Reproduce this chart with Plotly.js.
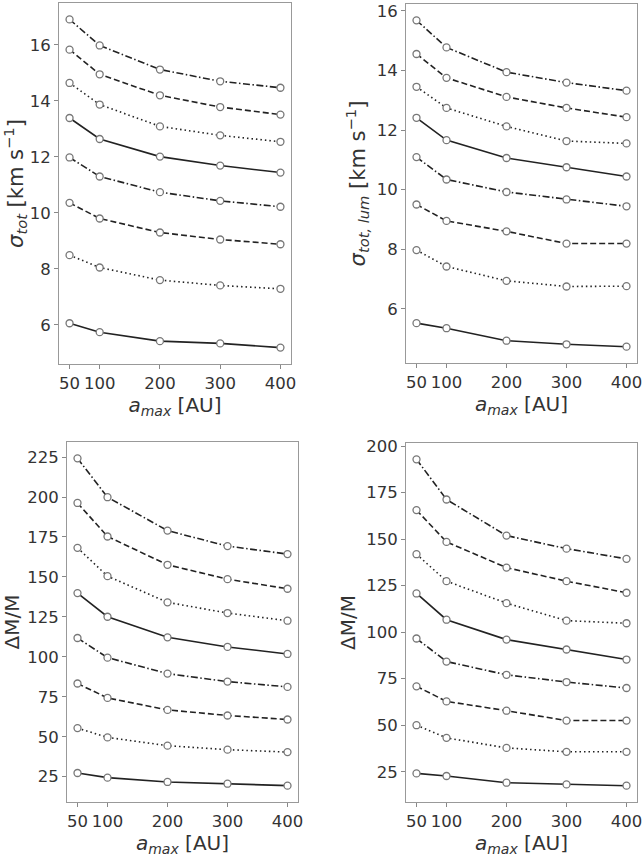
<!DOCTYPE html>
<html>
<head>
<meta charset="utf-8">
<script src="https://cdn.plot.ly/plotly-3.0.1.min.js"></script>
<style>html,body{margin:0;padding:0;background:#fff;}#chart{width:643px;height:857px;}</style>
</head>
<body>
<div id="chart"></div>
<script>
// a_max values [AU]
const aMax = [50, 100, 200, 300, 400];
const xTicks = [50, 100, 200, 300, 400];

// Panel 1: sigma_tot [km/s], series from bottom (1) to top (8)
const sigTot1 = [6.06, 5.74, 5.42, 5.34, 5.19];
const sigTot2 = [8.49, 8.05, 7.60, 7.41, 7.29];
const sigTot3 = [10.36, 9.80, 9.30, 9.05, 8.88];
const sigTot4 = [11.98, 11.30, 10.74, 10.43, 10.22];
const sigTot5 = [13.39, 12.64, 12.01, 11.69, 11.44];
const sigTot6 = [14.64, 13.87, 13.09, 12.77, 12.54];
const sigTot7 = [15.83, 14.95, 14.20, 13.78, 13.51];
const sigTot8 = [16.91, 15.98, 15.12, 14.70, 14.47];

// Panel 2: sigma_tot,lum [km/s]
const sigLum1 = [5.52, 5.35, 4.93, 4.81, 4.73];
const sigLum2 = [7.97, 7.42, 6.94, 6.75, 6.76];
const sigLum3 = [9.50, 8.95, 8.60, 8.19, 8.19];
const sigLum4 = [11.09, 10.34, 9.92, 9.67, 9.44];
const sigLum5 = [12.41, 11.66, 11.06, 10.75, 10.44];
const sigLum6 = [13.45, 12.74, 12.12, 11.63, 11.55];
const sigLum7 = [14.55, 13.75, 13.11, 12.74, 12.43];
const sigLum8 = [15.68, 14.77, 13.94, 13.59, 13.32];

// Panel 3: ΔM/M
const dmA1 = [27.3, 24.4, 21.7, 20.6, 19.4];
const dmA2 = [55.4, 49.6, 44.4, 41.9, 40.4];
const dmA3 = [83.3, 74.3, 66.8, 63.3, 60.8];
const dmA4 = [111.8, 99.5, 89.5, 84.5, 81.2];
const dmA5 = [139.9, 125.1, 112.2, 106.2, 101.8];
const dmA6 = [168.2, 150.5, 134.1, 127.4, 122.6];
const dmA7 = [196.3, 175.3, 157.6, 148.6, 142.6];
const dmA8 = [224.2, 199.9, 179.0, 169.3, 164.3];

// Panel 4: ΔM/M (luminosity weighted)
const dmB1 = [24.1, 22.7, 19.1, 18.2, 17.5];
const dmB2 = [50.0, 43.2, 37.8, 35.7, 35.7];
const dmB3 = [70.9, 62.8, 57.8, 52.5, 52.5];
const dmB4 = [96.6, 84.2, 77.1, 73.2, 70.0];
const dmB5 = [120.8, 106.7, 96.0, 90.7, 85.3];
const dmB6 = [141.9, 127.4, 115.6, 106.2, 104.8];
const dmB7 = [165.6, 148.5, 134.7, 127.4, 121.2];
const dmB8 = [192.9, 171.3, 151.9, 144.9, 139.4];

const panels = [
  {series: [sigTot1, sigTot2, sigTot3, sigTot4, sigTot5, sigTot6, sigTot7, sigTot8], yTicks: [6, 8, 10, 12, 14, 16], yTitle: '<i>σ<sub>tot</sub></i> [km s<sup>−1</sup>]', ySize: 21},
  {series: [sigLum1, sigLum2, sigLum3, sigLum4, sigLum5, sigLum6, sigLum7, sigLum8], yTicks: [6, 8, 10, 12, 14, 16], yTitle: '<i>σ<sub>tot, lum</sub></i> [km s<sup>−1</sup>]', ySize: 21},
  {series: [dmA1, dmA2, dmA3, dmA4, dmA5, dmA6, dmA7, dmA8], yTicks: [25, 50, 75, 100, 125, 150, 175, 200, 225], yTitle: 'ΔM/M', ySize: 20},
  {series: [dmB1, dmB2, dmB3, dmB4, dmB5, dmB6, dmB7, dmB8], yTicks: [25, 50, 75, 100, 125, 150, 175, 200], yTitle: 'ΔM/M', ySize: 20}
];

const dashes = ['solid', '1.5px,3px', '6px,3px', '7px,2.5px,1.5px,2.5px'];

const W = 643, H = 857;
const boxes = [
  {x0: 59, x1: 291, y0: 3, y1: 364},
  {x0: 406, x1: 637, y0: 4, y1: 363},
  {x0: 67, x1: 298, y0: 442, y1: 802},
  {x0: 406, x1: 637, y0: 443, y1: 802}
];

const traces = [];
const layout = {
  width: W, height: H,
  margin: {l: 0, r: 0, t: 0, b: 0},
  paper_bgcolor: '#fff', plot_bgcolor: '#fff',
  showlegend: false,
  font: {family: 'DejaVu Sans, sans-serif', color: '#333'}
};

panels.forEach((p, i) => {
  const n = i + 1;
  const xa = n === 1 ? 'x' : 'x' + n;
  const ya = n === 1 ? 'y' : 'y' + n;
  const all = p.series.flat();
  const mn = Math.min(...all), mx = Math.max(...all);
  const pad = (mx - mn) * 0.05;
  p.series.forEach((s, k) => {
    traces.push({
      x: aMax, y: s, xaxis: xa, yaxis: ya,
      mode: 'lines+markers', type: 'scatter',
      line: {color: '#222', width: 1.6, dash: dashes[k % 4]},
      marker: {symbol: 'circle', size: 7, color: '#fff', line: {color: '#777', width: 1.3}},
      hoverinfo: 'skip', cliponaxis: false
    });
  });
  const b = boxes[i];
  const axBase = {
    showline: true, linecolor: '#999', linewidth: 1, mirror: true,
    showgrid: false, zeroline: false,
    ticks: 'outside', ticklen: 4, tickwidth: 1, tickcolor: '#888',
    tickfont: {size: 16.5, color: '#333'},
    ticklabeloverflow: 'allow'
  };
  layout['xaxis' + (n === 1 ? '' : n)] = Object.assign({}, axBase, {
    domain: [b.x0 / W, b.x1 / W], anchor: ya,
    range: [50 - 17.5, 400 + 17.5],
    tickmode: 'array', tickvals: xTicks, ticktext: xTicks.map(String),
    title: {text: '<i>a<sub>max</sub></i> [AU]', font: {size: 20, color: '#333'}, standoff: 3}
  });
  layout['yaxis' + (n === 1 ? '' : n)] = Object.assign({}, axBase, {
    domain: [1 - b.y1 / H, 1 - b.y0 / H], anchor: xa,
    range: [mn - pad, mx + pad],
    tickmode: 'array', tickvals: p.yTicks, ticktext: p.yTicks.map(String),
    title: {text: p.yTitle, font: {size: p.ySize, color: '#333'}, standoff: 5}
  });
});

Plotly.newPlot('chart', traces, layout, {staticPlot: true, displayModeBar: false});
</script>
</body>
</html>
